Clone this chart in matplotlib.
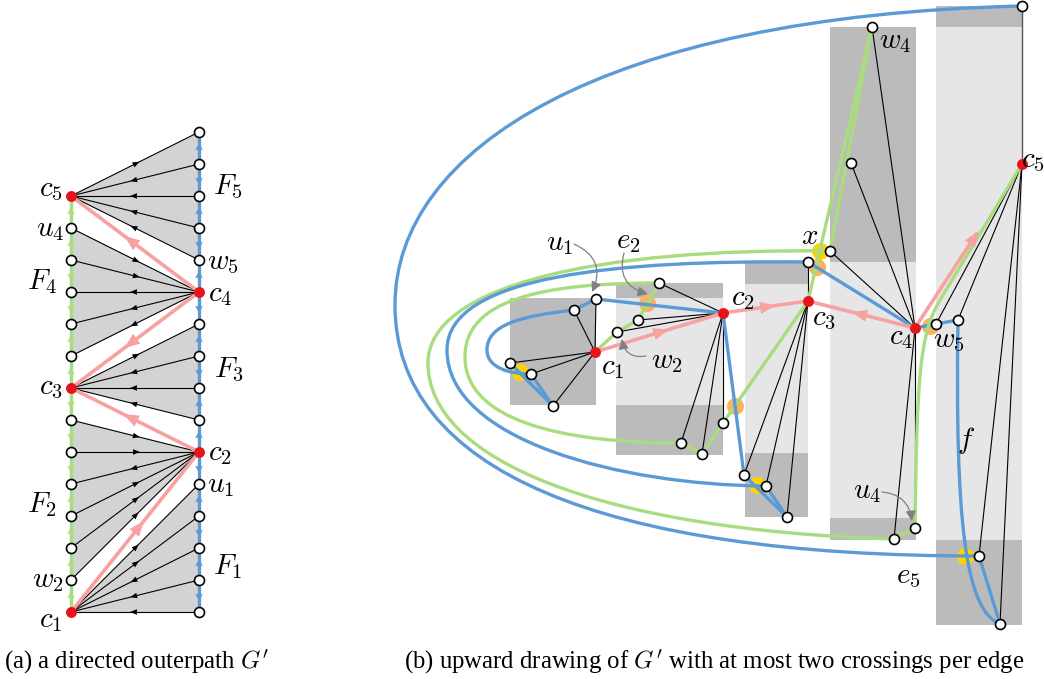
import numpy as np
import matplotlib.pyplot as plt
from matplotlib.patches import Polygon, Rectangle, FancyArrowPatch, PathPatch
from matplotlib.path import Path

plt.rcParams['mathtext.fontset'] = 'cm'

BLUE = '#5b9bd5'
GREEN = '#a9dc7f'
PINK = '#f8a1a1'
RED = '#e8141c'
DARK = '#bbbbbb'
LIGHT = '#e6e6e6'
FACE = '#d3d3d3'
YELLOW = '#ffd200'
ORANGE = '#fbb25e'
LABEL_FS = 21

# ─────────────────────────────────────────────
# (a) directed outerpath: two columns of vertices
# ─────────────────────────────────────────────
col_x = {'L': 71, 'R': 199}
row0, row_step = 132, 32.0
left_rows = list(range(2, 16))
right_rows = list(range(0, 16))
red_a = [('L', 2), ('L', 8), ('L', 15), ('R', 5), ('R', 10)]
# arrow direction on column segments (k -> k+1): +1 points up, -1 points down
left_dirs = [1, 1, -1, -1, 1, 1, -1, -1, -1, 1, 1, 1, 1]
right_dirs = [1, -1, 1, -1, 1, -1, 1, -1, 1, 1, -1, 1, -1, 1, -1]
# faces: (side of centre, centre row, rows on the other column, 1 = arrow into centre)
fans = [
    ('L', 2, [0, 1, 2, 3, 4], [0, 1, 1, 1, 1]),
    ('R', 5, [3, 4, 5, 6, 7], [1, 1, 0, 0, 0]),
    ('L', 8, [6, 7, 8, 9], [0, 1, 1, 1]),
    ('R', 10, [9, 10, 11, 12, 13, 14], [1, 1, 0, 1, 1, 1]),
    ('L', 15, [11, 12, 13, 14, 15], [0, 0, 1, 1, 1]),
]
pink_a = [(('L', 15), ('R', 10)), (('R', 10), ('L', 8)),
          (('R', 5), ('L', 8)), (('R', 5), ('L', 2))]
labels_a = [('$c_5$', 51, 189), ('$u_4$', 50, 229), ('$F_4$', 42, 282),
            ('$c_3$', 51, 387), ('$F_2$', 42, 505), ('$w_2$', 48, 580),
            ('$c_1$', 51, 620), ('$F_5$', 228, 187), ('$w_5$', 223, 262),
            ('$c_4$', 220, 294), ('$F_3$', 229, 370), ('$c_2$', 220, 453),
            ('$u_1$', 221, 485), ('$F_1$', 228, 567)]

# ─────────────────────────────────────────────
# (b) upward drawing
# ─────────────────────────────────────────────
boxes = [  # x0, y0, x1, y1, colour
    (510, 298, 596, 405, DARK),
    (616, 283, 723, 455, LIGHT), (616, 283, 723, 298, DARK), (616, 405, 723, 455, DARK),
    (745, 262, 808, 517, LIGHT), (745, 262, 808, 284, DARK), (745, 453, 808, 517, DARK),
    (830, 27, 916, 540, LIGHT), (830, 27, 916, 262, DARK), (830, 518, 916, 540, DARK),
    (936, 6, 1022, 625, LIGHT), (936, 6, 1022, 27, DARK), (936, 540, 1022, 625, DARK),
]
red_b = {'c1': (595, 352), 'c2': (723, 313), 'c3': (808, 301),
         'c4': (915, 328), 'c5': (1022, 164)}
white_b = {'u1': (596, 299), 'a1': (574, 310), 'a2': (510, 363), 'a3': (531, 374),
           'a4': (553, 406), 'e2': (659, 283), 'b1': (638, 320), 'w2': (617, 332),
           'b2': (681, 443), 'b3': (702, 454), 'b4': (723, 423), 'd0': (808, 262),
           'd1': (744, 475), 'd2': (766, 486), 'd3': (787, 517), 'x': (830, 251),
           'w4': (872, 27), 'g1': (851, 163), 'g2': (894, 539), 'u4': (915, 528),
           'w5': (936, 324), 'h1': (958, 320), 'h2': (979, 556), 'h3': (1000, 624),
           'top': (1022, 6)}
black_b = [('c1', 'u1'), ('c1', 'a1'), ('c1', 'a2'), ('c1', 'a3'), ('c1', 'a4'),
           ('c2', 'e2'), ('c2', 'b1'), ('c2', 'w2'), ('c2', 'b2'), ('c2', 'b3'),
           ('c2', 'b4'), ('c3', 'd0'), ('c3', 'd1'), ('c3', 'd2'), ('c3', 'd3'),
           ('c4', 'x'), ('c4', 'g1'), ('c4', 'w4'), ('c4', 'g2'), ('c4', 'u4'),
           ('c5', 'w5'), ('c5', 'h1'), ('c5', 'h2'), ('c5', 'h3')]
green_b = [('c1', 'w2'), ('w2', 'b1'), ('b1', 'e2'), ('b2', 'b3'), ('b3', 'b4'),
           ('b4', 'c3'), ('c3', 'w4'), ('x', 'w4'), ('g2', 'u4')]
blue_b = [('c2', 'u1'), ('u1', 'a1'), ('a2', 'a4'), ('a3', 'a4'), ('c2', 'd1'),
          ('d1', 'd3'), ('d2', 'd3'), ('d0', 'c4'), ('c4', 'w5'), ('w5', 'h1'),
          ('h2', 'h3')]
pink_b = [('c1', 'c2', 1.0), ('c2', 'c3', 1.0), ('c4', 'c3', 1.0), ('c4', 'c5', 0.57)]
# curved edges as cubic Bezier chains: start, then (ctrl1, ctrl2, end) triples
blue_curves = [
    [(979, 556), (600, 556), (395, 470), (395, 305), (395, 150), (600, 16), (1022, 6)],
    [(808, 262), (620, 260), (447, 275), (447, 350), (447, 440), (620, 485), (766, 486)],
    [(574, 310), (520, 316), (487, 325), (487, 350), (487, 368), (510, 374), (531, 374)],
    [(958, 320), (955, 520), (965, 610), (1000, 624)],
]
green_curves = [
    [(830, 251), (600, 248), (428, 285), (428, 363), (428, 460), (600, 530), (894, 539)],
    [(659, 283), (540, 283), (465, 300), (465, 357), (465, 420), (560, 443), (681, 443)],
    [(915, 528), (917, 380), (919, 335), (940, 300), (960, 267), (990, 217), (1022, 164)],
]
yellow_b = [(520, 372), (757, 485), (820, 251), (965, 556)]
orange_b = [(647, 303), (735, 406), (817, 267), (930, 326)]
labels_b = [('$u_1$', 560, 243), ('$e_2$', 628, 241), ('$w_2$', 667, 361),
            ('$c_1$', 613, 367), ('$c_2$', 743, 298), ('$c_3$', 824, 318),
            ('$x$', 810, 236), ('$c_4$', 901, 337), ('$w_5$', 949, 340),
            ('$w_4$', 895, 41), ('$c_5$', 1033, 160), ('$f$', 966, 440),
            ('$u_4$', 867, 491), ('$e_5$', 908, 576)]
pointers = [  # tail, head, curvature
    ((574, 244), (592, 292), -0.5),
    ((624, 253), (648, 294), 0.5),
    ((646, 356), (622, 339), -0.5),
    ((882, 492), (912, 521), -0.4),
]


def mid_arrow(ax, p, q, t, color, size, hl, hw, z):
    p, q = np.asarray(p, float), np.asarray(q, float)
    d = (q - p) / np.linalg.norm(q - p)
    m = p + t * (q - p)
    ax.add_patch(FancyArrowPatch(m - d * size * 0.8, m + d * size * 0.5,
                                 arrowstyle=f'-|>,head_length={hl},head_width={hw}',
                                 mutation_scale=size, color=color, lw=0,
                                 shrinkA=0, shrinkB=0, zorder=z))


def bezier(ax, pts, color, lw, z):
    codes = [Path.MOVETO] + [Path.CURVE4] * (len(pts) - 1)
    ax.add_patch(PathPatch(Path(pts, codes), fc='none', ec=color, lw=lw,
                           capstyle='round', zorder=z))


fig = plt.figure(figsize=(10.44, 6.79), dpi=100)
ax = fig.add_axes([0, 0, 1, 1])
ax.set_xlim(0, 1044)
ax.set_ylim(679, 0)
ax.axis('off')


def pa(side, k):
    return (col_x[side], row0 + row_step * k)


# --- panel (a) ---
for side, c, rows, dirs in fans:
    other = 'R' if side == 'L' else 'L'
    centre = pa(side, c)
    ax.add_patch(Polygon([centre] + [pa(other, k) for k in rows], closed=True,
                         fc=FACE, ec='none', zorder=1))
    for k, into in zip(rows, dirs):
        p = pa(other, k)
        ax.plot([p[0], centre[0]], [p[1], centre[1]], color='black', lw=0.8, zorder=2)
        a, b = (p, centre) if into else (centre, p)
        mid_arrow(ax, a, b, 0.5, 'black', 10, 0.5, 0.2, 3)

for side, rows, dirs, colr in [('L', left_rows, left_dirs, GREEN),
                               ('R', right_rows, right_dirs, BLUE)]:
    ys = [pa(side, k)[1] for k in rows]
    ax.plot([col_x[side]] * len(ys), ys, color=colr, lw=2.4, zorder=3)
    for k, dr in zip(rows[:-1], dirs):
        lo, hi = pa(side, k + 1), pa(side, k)
        a, b = (lo, hi) if dr > 0 else (hi, lo)
        mid_arrow(ax, a, b, 0.5, colr, 9, 0.5, 0.3, 3)

for (s1, k1), (s2, k2) in pink_a:
    p, q = pa(s1, k1), pa(s2, k2)
    ax.plot([p[0], q[0]], [p[1], q[1]], color=PINK, lw=2.6, zorder=3)
    mid_arrow(ax, p, q, 0.52, PINK, 20, 0.55, 0.22, 3)

for side, rows in [('L', left_rows), ('R', right_rows)]:
    for k in rows:
        x, y = pa(side, k)
        if (side, k) in red_a:
            ax.scatter(x, y, s=62, color=RED, zorder=6, lw=0)
        else:
            ax.scatter(x, y, s=52, facecolor='white', edgecolor='black', lw=1.2, zorder=6)

for txt, x, y in labels_a:
    ax.text(x, y, txt, fontsize=LABEL_FS, ha='center', va='center', zorder=7)

# --- panel (b) ---
for x0, y0, x1, y1, colr in boxes:
    ax.add_patch(Rectangle((x0, y0), x1 - x0, y1 - y0, fc=colr, ec='none', zorder=0))

for x, y in yellow_b:
    ax.scatter(x, y, s=150, color=YELLOW, lw=0, zorder=1.5)
for x, y in orange_b:
    ax.scatter(x, y, s=150, color=ORANGE, lw=0, zorder=1.5)

nodes = {**red_b, **white_b}
for u, v in black_b:
    (x1, y1), (x2, y2) = nodes[u], nodes[v]
    ax.plot([x1, x2], [y1, y2], color='black', lw=0.8, zorder=2)
ax.plot([nodes['c5'][0], nodes['top'][0]], [nodes['c5'][1], nodes['top'][1]],
        color='#555555', lw=1.0, zorder=2)

for edges, colr in [(green_b, GREEN), (blue_b, BLUE)]:
    for u, v in edges:
        (x1, y1), (x2, y2) = nodes[u], nodes[v]
        ax.plot([x1, x2], [y1, y2], color=colr, lw=2.4, zorder=3,
                solid_capstyle='round')
for pts in green_curves:
    bezier(ax, pts, GREEN, 2.4, 3)
for pts in blue_curves:
    bezier(ax, pts, BLUE, 2.4, 3)

for u, v, frac in pink_b:
    p, q = np.asarray(nodes[u], float), np.asarray(nodes[v], float)
    e = p + frac * (q - p)
    ax.plot([p[0], e[0]], [p[1], e[1]], color=PINK, lw=2.6, zorder=3.5)
    t = frac - 0.03 if frac < 1 else 0.5
    mid_arrow(ax, p, q, t, PINK, 20, 0.55, 0.22, 3.5)

for name, (x, y) in red_b.items():
    ax.scatter(x, y, s=62, color=RED, zorder=6, lw=0)
for name, (x, y) in white_b.items():
    ax.scatter(x, y, s=52, facecolor='white', edgecolor='black', lw=1.2, zorder=6)

for txt, x, y in labels_b:
    ax.text(x, y, txt, fontsize=LABEL_FS, ha='center', va='center', zorder=7)

for tail, head, rad in pointers:
    ax.annotate('', xy=head, xytext=tail,
                arrowprops=dict(arrowstyle='-|>,head_length=0.5,head_width=0.25',
                                color='#808080', lw=0.9,
                                mutation_scale=12, shrinkA=0, shrinkB=0,
                                connectionstyle=f'arc3,rad={rad}'), zorder=7)

# captions
ax.text(137, 662, "(a) a directed outerpath $G'$", fontsize=17.8,
        family='Liberation Serif', ha='center', va='center')
ax.text(714, 662, "(b) upward drawing of $G'$ with at most two crossings per edge",
        fontsize=17.8, family='Liberation Serif', ha='center', va='center')

fig.savefig('out.png', dpi=100)
